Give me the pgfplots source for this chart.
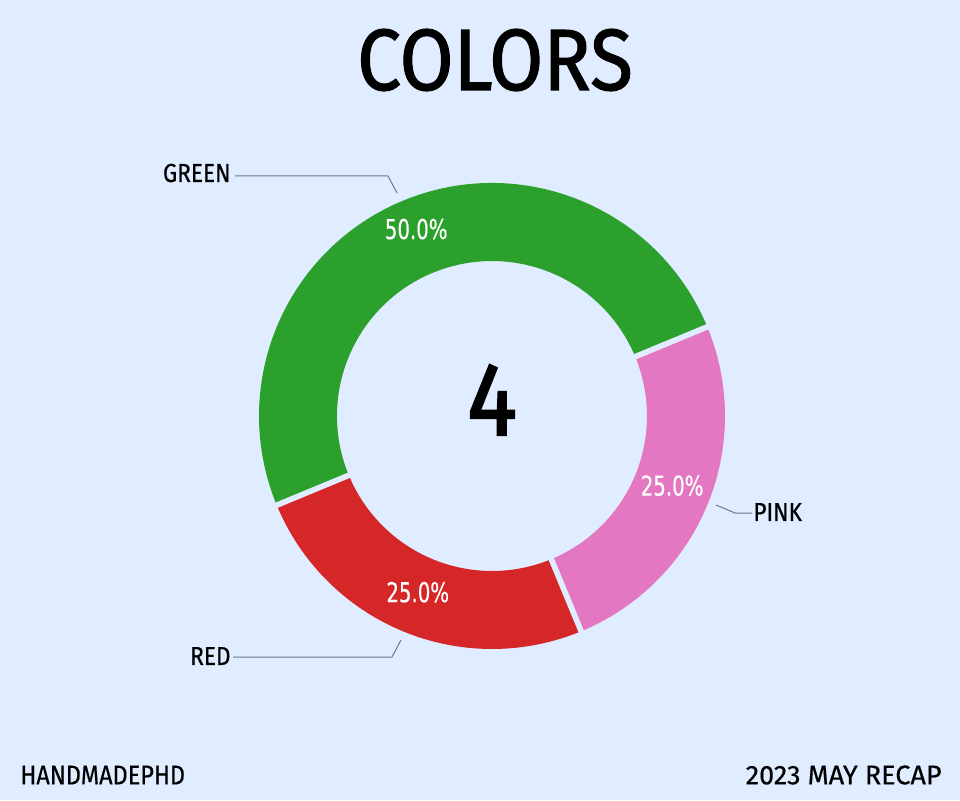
\documentclass[border=0pt]{standalone}
\usepackage{pgfplots}
\pgfplotsset{compat=1.18}
\usepackage{fontspec}
\setmainfont{Fira Sans}
\newfontfamily\hand[FakeStretch=0.87,FakeBold=0.4]{Fira Sans}
\newfontfamily\handw[FakeStretch=1.0,FakeBold=0.4]{Fira Sans}
\newfontfamily\handtitle[FakeStretch=0.9,FakeBold=1.3]{Fira Sans}
\newfontfamily\handfour[FakeStretch=0.9,FakeBold=1.8]{Fira Sans}
\newfontfamily\pct[FakeStretch=0.72,FakeBold=0.3]{DejaVu Sans}
\definecolor{bg}{HTML}{E0ECFF}
\definecolor{cgreen}{HTML}{2CA02C}
\definecolor{cred}{HTML}{D62728}
\definecolor{cpink}{HTML}{E377C2}
\definecolor{lead}{HTML}{6A7A8C}
% values (percent)
\def\vGreen{50}
\def\vRed{25}
\def\vPink{25}
\def\startang{22.5}
\pgfmathsetmacro\aA{\startang}
\pgfmathsetmacro\aB{\aA+3.6*\vGreen}
\pgfmathsetmacro\aC{\aB+3.6*\vRed}
\pgfmathsetmacro\aD{\aC+3.6*\vPink}
\pgfmathsetmacro\mG{(\aA+\aB)/2}
\pgfmathsetmacro\mR{(\aB+\aC)/2}
\pgfmathsetmacro\mP{(\aC+\aD)/2}
\def\Ro{116.5pt}
\def\Ri{77.5pt}
\newcommand\wedgefill[3]{%
  \fill[#3] ([shift={(#1:\Ro)}]axis cs:492,384) arc[start angle=#1,end angle=#2,radius=\Ro]
   -- ([shift={(#2:\Ri)}]axis cs:492,384) arc[start angle=#2,end angle=#1,radius=\Ri] -- cycle;}
\newcommand\sep[1]{%
  \draw[bg,line width=2.8pt] ([shift={(#1:70pt)}]axis cs:492,384) -- ([shift={(#1:122pt)}]axis cs:492,384);}
\begin{document}
\begin{tikzpicture}
\begin{axis}[width=480pt,height=400pt,scale only axis,
  xmin=0,xmax=960,ymin=0,ymax=800,axis lines=none,clip=false]
\fill[bg] (axis cs:0,0) rectangle (axis cs:960,800);
\wedgefill{\aA}{\aB}{cgreen}
\wedgefill{\aB}{\aC}{cred}
\wedgefill{\aC}{\aD}{cpink}
\sep{\aA}\sep{\aB}\sep{\aC}
\node[white,font=\pct\fontsize{13.7}{16}\selectfont] at ([shift={(\mG:99pt)}]axis cs:492,388) {50.0\%};
\node[white,font=\pct\fontsize{13.7}{16}\selectfont] at ([shift={(\mR:97pt)}]axis cs:492,387) {25.0\%};
\node[white,font=\pct\fontsize{13.7}{16}\selectfont] at ([shift={(\mP:97.5pt)}]axis cs:492,389) {25.0\%};
% leader lines
\draw[lead,line width=0.5pt] (axis cs:235,624) -- (axis cs:388,624) -- (axis cs:397,607);
\draw[lead,line width=0.5pt] (axis cs:233,143) -- (axis cs:392,143) -- (axis cs:401,160);
\draw[lead,line width=0.5pt] (axis cs:752,287) -- (axis cs:735,287) -- (axis cs:716,295);
\node[anchor=east,inner sep=0pt,font=\hand\fontsize{13}{15}\selectfont] at (axis cs:231,627) {GREEN};
\node[anchor=east,inner sep=0pt,font=\hand\fontsize{13}{15}\selectfont] at (axis cs:231,144) {RED};
\node[anchor=west,inner sep=0pt,font=\hand\fontsize{13}{15}\selectfont] at (axis cs:753,288) {PINK};
% title and centre
\node[font=\handtitle\fontsize{43.5}{48}\selectfont] at (axis cs:495,740) {COLORS};
\node[font=\handfour\fontsize{52}{56}\selectfont] at (axis cs:492,400) {4};
% footer
\node[anchor=west,inner sep=0pt,font=\hand\fontsize{13.5}{16}\selectfont] at (axis cs:20,25) {HANDMADEPHD};
\node[anchor=east,inner sep=0pt,font=\handw\fontsize{13.5}{16}\selectfont] at (axis cs:942,25) {2023 MAY RECAP};
\end{axis}
\end{tikzpicture}
\end{document}
